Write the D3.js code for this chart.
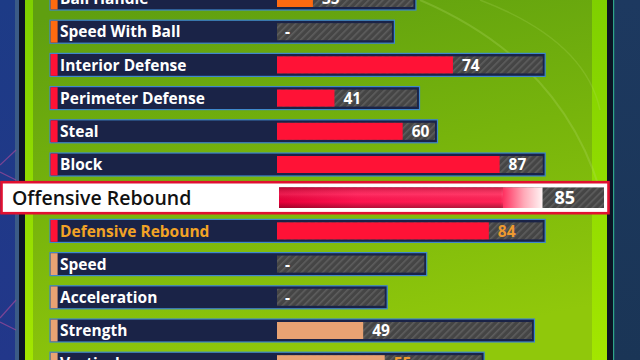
<!DOCTYPE html>
<html>
<head>
<meta charset="utf-8">
<script src="https://cdn.jsdelivr.net/npm/d3@7"></script>
<style>
  html, body { margin: 0; padding: 0; background: #13254a; }
  svg { display: block; }
</style>
</head>
<body>
<svg id="chart"></svg>
<script>
// Attribute rows, top to bottom (first and last are cut by the frame)
var labels = ["Ball Handle", "Speed With Ball", "Interior Defense", "Perimeter Defense",
  "Steal", "Block", "Offensive Rebound", "Defensive Rebound",
  "Speed", "Acceleration", "Strength", "Vertical"];
// current rating, null where the game shows "-"
var values = [35, null, 74, 41, 60, 87, 85, 84, null, null, 49, 55];
// length of the grey track (rating cap)
var caps = [63, 57, 99, 64, 69, 99, 99, 99, 66, 55, 96, 82];
var groups = ["handle", "handle", "defense", "defense", "defense", "defense",
  "defense", "defense", "athletic", "athletic", "athletic", "athletic"];
var selected = "Offensive Rebound";
var orangeLabels = ["Defensive Rebound"];
var orangeValues = ["Defensive Rebound", "Vertical"];
var ratingDomain = [25, 99];

var width = 640, height = 360;

var groupColor = d3.scaleOrdinal()
  .domain(["handle", "defense", "athletic"])
  .range(["#ff6a10", "#ff1236", "#e8a273"]);

var y = d3.scalePoint().domain(labels).range([-1.5, 363.7]);
var x = d3.scaleLinear().domain(ratingDomain).range([277, 542.7]);
var xSel = d3.scaleLinear().domain(ratingDomain).range([279, 604]);

var rows = labels.map(function (d, i) {
  return { label: d, value: values[i], cap: caps[i], group: groups[i] };
});

var svg = d3.select("#chart").attr("width", width).attr("height", height);
var defs = svg.append("defs");

// background gradients
var bgL = defs.append("linearGradient").attr("id", "bgL").attr("x1", 0).attr("y1", 0).attr("x2", 0).attr("y2", 1);
bgL.append("stop").attr("offset", 0).attr("stop-color", "#1d3b86");
bgL.append("stop").attr("offset", 1).attr("stop-color", "#22378a");

var bgR = defs.append("linearGradient").attr("id", "bgR").attr("x1", 0).attr("y1", 0).attr("x2", 0).attr("y2", 1);
bgR.append("stop").attr("offset", 0).attr("stop-color", "#1d3960");
bgR.append("stop").attr("offset", 1).attr("stop-color", "#1a3556");

var panel = defs.append("linearGradient").attr("id", "panel").attr("x1", 0.2).attr("y1", 0).attr("x2", 0.5).attr("y2", 1);
panel.append("stop").attr("offset", 0).attr("stop-color", "#5f9f10");
panel.append("stop").attr("offset", 0.5).attr("stop-color", "#77b40c");
panel.append("stop").attr("offset", 1).attr("stop-color", "#90c80b");

var lime = defs.append("linearGradient").attr("id", "lime").attr("x1", 0).attr("y1", 0).attr("x2", 0).attr("y2", 1);
lime.append("stop").attr("offset", 0).attr("stop-color", "#7fd000");
lime.append("stop").attr("offset", 1).attr("stop-color", "#a3e600");

// striped track pattern
var stripes = defs.append("pattern").attr("id", "stripes")
  .attr("patternUnits", "userSpaceOnUse").attr("width", 5).attr("height", 5)
  .attr("patternTransform", "rotate(45)");
stripes.append("rect").attr("width", 5).attr("height", 5).attr("fill", "#454545");
stripes.append("rect").attr("width", 1.6).attr("height", 5).attr("fill", "#5e5e5e");

// selected bar gradient
var selGrad = defs.append("linearGradient").attr("id", "selGrad").attr("x1", 0).attr("y1", 0).attr("x2", 1).attr("y2", 0);
selGrad.append("stop").attr("offset", 0).attr("stop-color", "#e8003a");
selGrad.append("stop").attr("offset", 0.3).attr("stop-color", "#ff1450");
selGrad.append("stop").attr("offset", 0.84).attr("stop-color", "#ff2255");
selGrad.append("stop").attr("offset", 0.93).attr("stop-color", "#ffaab8");
selGrad.append("stop").attr("offset", 1).attr("stop-color", "#fff4f4");
var selShade = defs.append("linearGradient").attr("id", "selShade").attr("x1", 0).attr("y1", 0).attr("x2", 0).attr("y2", 1);
selShade.append("stop").attr("offset", 0).attr("stop-color", "#000").attr("stop-opacity", 0.2);
selShade.append("stop").attr("offset", 0.35).attr("stop-color", "#fff").attr("stop-opacity", 0.1);
selShade.append("stop").attr("offset", 0.7).attr("stop-color", "#000").attr("stop-opacity", 0);
selShade.append("stop").attr("offset", 1).attr("stop-color", "#000").attr("stop-opacity", 0.3);

// frame
svg.append("rect").attr("width", 16).attr("height", height).attr("fill", "url(#bgL)");
svg.append("rect").attr("x", 15).attr("width", 4).attr("height", height).attr("fill", "#3b5b86");
svg.append("rect").attr("x", 19).attr("width", 6).attr("height", height).attr("fill", "#0b1326");
svg.append("rect").attr("x", 25).attr("width", 567).attr("height", height).attr("fill", "url(#panel)");
svg.append("rect").attr("x", 25).attr("width", 8).attr("height", height).attr("fill", "url(#lime)");
svg.append("rect").attr("x", 592).attr("width", 15).attr("height", height).attr("fill", "url(#lime)");
svg.append("rect").attr("x", 607).attr("width", 6).attr("height", height).attr("fill", "#0a1424");
svg.append("rect").attr("x", 613).attr("width", 1.5).attr("height", height).attr("fill", "#2fa58a");
svg.append("rect").attr("x", 614.5).attr("width", 26).attr("height", height).attr("fill", "url(#bgR)");

// faint decor lines on the left edge
[[0, 165, 16, 150], [0, 172, 16, 180], [0, 318, 16, 300], [0, 322, 16, 330]].forEach(function (l) {
  svg.append("line").attr("x1", l[0]).attr("y1", l[1]).attr("x2", l[2]).attr("y2", l[3])
    .attr("stroke", "#a04a9a").attr("stroke-width", 1.2).attr("opacity", 0.7);
});

// light streaks in the panel
svg.append("path").attr("d", "M420,0 Q560,60 600,190").attr("fill", "none")
  .attr("stroke", "#b8e070").attr("stroke-width", 2).attr("opacity", 0.25);
svg.append("path").attr("d", "M480,0 Q585,40 600,110").attr("fill", "none")
  .attr("stroke", "#b8e070").attr("stroke-width", 1.5).attr("opacity", 0.2);

var rowH = 23, barH = 17;
var normal = rows.filter(function (d) { return d.label !== selected; });

var g = svg.selectAll(".row").data(normal).enter().append("g").attr("class", "row");

g.append("rect")
  .attr("x", 50).attr("y", function (d) { return y(d.label) - rowH / 2; })
  .attr("width", function (d) { return x(d.cap) + 2.5 - 50; }).attr("height", rowH)
  .attr("fill", "#1a2347").attr("stroke", "#3f88cc").attr("stroke-width", 1.2);

g.append("rect")
  .attr("x", 50.6).attr("y", function (d) { return y(d.label) - rowH / 2 + 0.6; })
  .attr("width", 7).attr("height", rowH - 1.2)
  .attr("fill", function (d) { return groupColor(d.group); });

g.append("rect")
  .attr("x", x(ratingDomain[0])).attr("y", function (d) { return y(d.label) - barH / 2; })
  .attr("width", function (d) { return x(d.cap) - x(ratingDomain[0]); }).attr("height", barH)
  .attr("fill", "url(#stripes)");

g.filter(function (d) { return d.value != null; }).append("rect")
  .attr("x", x(ratingDomain[0])).attr("y", function (d) { return y(d.label) - barH / 2; })
  .attr("width", function (d) { return x(d.value) - x(ratingDomain[0]); }).attr("height", barH)
  .attr("fill", function (d) { return groupColor(d.group); });

g.append("text")
  .attr("x", 60).attr("y", function (d) { return y(d.label) + 5.6; })
  .attr("font-family", "Open Sans").attr("font-weight", 700).attr("font-size", 15.5)
  .attr("fill", function (d) { return orangeLabels.indexOf(d.label) >= 0 ? "#f2a326" : "#ffffff"; })
  .text(function (d) { return d.label; });

g.append("text")
  .attr("x", function (d) { return d.value == null ? 285 : x(d.value) + 9; })
  .attr("y", function (d) { return y(d.label) + 5.6; })
  .attr("font-family", "Open Sans").attr("font-weight", 700).attr("font-size", 15.5)
  .attr("fill", function (d) { return orangeValues.indexOf(d.label) >= 0 ? "#ee9a30" : "#ffffff"; })
  .text(function (d) { return d.value == null ? "-" : d.value; });

// selected row
var sel = rows.filter(function (d) { return d.label === selected; })[0];
var sy = y(sel.label);
var sg = svg.append("g").attr("class", "selected");
sg.append("rect").attr("x", 1.5).attr("y", sy - 15.5).attr("width", 607).attr("height", 31)
  .attr("fill", "#ffffff").attr("stroke", "#e01030").attr("stroke-width", 2.6);
sg.append("rect").attr("x", xSel(ratingDomain[0])).attr("y", sy - 10.3)
  .attr("width", xSel(sel.cap) - xSel(ratingDomain[0])).attr("height", 20.6)
  .attr("fill", "url(#stripes)");
sg.append("rect").attr("x", xSel(ratingDomain[0])).attr("y", sy - 10.3)
  .attr("width", xSel(sel.value) - xSel(ratingDomain[0])).attr("height", 20.6)
  .attr("fill", "url(#selGrad)");
sg.append("rect").attr("x", xSel(ratingDomain[0])).attr("y", sy - 10.3)
  .attr("width", (xSel(sel.value) - xSel(ratingDomain[0])) * 0.85).attr("height", 20.6)
  .attr("fill", "url(#selShade)");
sg.append("text").attr("x", 12).attr("y", sy + 6.8)
  .attr("font-family", "Open Sans").attr("font-weight", 600).attr("font-size", 19.5)
  .attr("fill", "#111111").text(sel.label);
sg.append("text").attr("x", xSel(sel.value) + 12).attr("y", sy + 6.5)
  .attr("font-family", "Open Sans").attr("font-weight", 700).attr("font-size", 18)
  .attr("fill", "#ffffff").text(sel.value);
</script>
</body>
</html>
